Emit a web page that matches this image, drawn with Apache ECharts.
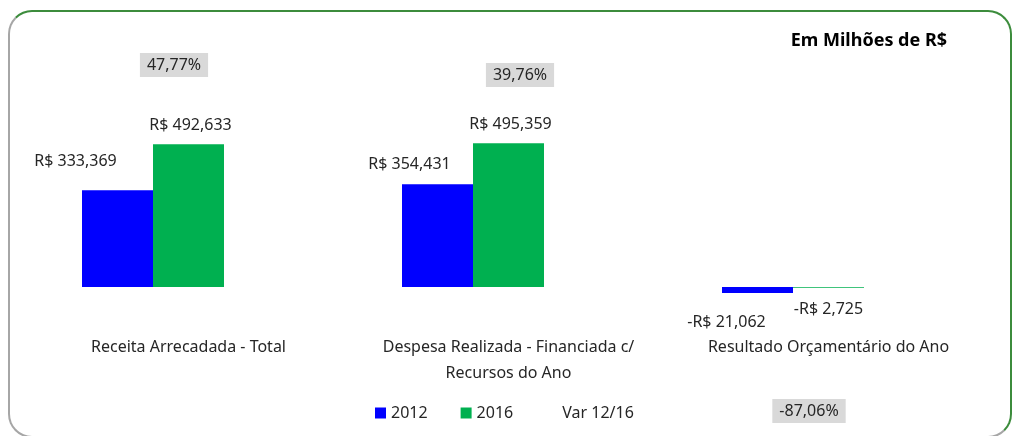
<!DOCTYPE html>
<html>
<head>
<meta charset="utf-8">
<script src="https://cdn.jsdelivr.net/npm/echarts@6/dist/echarts.min.js"></script>
<style>
    html, body { margin: 0; padding: 0; background: #fff; }
    #wrap { position: relative; width: 1013px; height: 436px; overflow: hidden; }
    #frame {
        position: absolute; left: 8px; top: 10px; width: 1004px; height: 428px;
        border: 2px solid #a6a6a6; border-top-color: #3c8c3c; border-right-color: #3c8c3c;
        border-radius: 24px; box-sizing: border-box;
    }
    #c1 { position: absolute; left: 0; top: 0; width: 1013px; height: 436px; }
</style>
</head>
<body>
<div id="wrap">
    <div id="frame"></div>
    <div id="c1"></div>
</div>
<script>
    // dados (em milhões de R$)
    var categorias = ['Receita Arrecadada - Total', 'Despesa Realizada - Financiada c/\nRecursos do Ano', 'Resultado Orçamentário do Ano'];
    var valores2012 = [333.369, 354.431, -21.062];
    var valores2016 = [492.633, 495.359, -2.725];
    var variacao = ['47,77%', '39,76%', '-87,06%'];

    // deslocamento dos rotulos (ajuste manual como no excel)
    var offs2012 = [[-42, -14], [-28, -5], [-31, 14]];
    var offs2016 = [[2, -4], [2, -4], [0, 7]];
    var posVar = [[-50, -222], [-24, -212], [-55, 124]];

    var fonte = 'Noto Sans';
    var corTexto = '#262626';

    function fmt(v) {
        var s = Math.abs(v).toFixed(3).replace('.', ',');
        return (v < 0 ? '-R$ ' : 'R$ ') + s;
    }

    function itens(vals, offs) {
        var out = [];
        for (var i = 0; i < vals.length; i++) {
            out.push({
                value: vals[i],
                label: {position: vals[i] < 0 ? 'bottom' : 'top', offset: offs[i]}
            });
        }
        return out;
    }

    var itensVar = [];
    for (var i = 0; i < variacao.length; i++) {
        itensVar.push({value: 0, label: {position: posVar[i]}});
    }

    var Chart_c1 = echarts.init(document.getElementById('c1'));
    var option = {
        animation: false,
        textStyle: {fontFamily: fonte, color: corTexto},
        title: {
            text: 'Em Milhões de R$',
            right: 61,
            top: 27,
            textStyle: {fontFamily: fonte, fontSize: 18, fontWeight: 'bold', color: '#000'}
        },
        legend: {
            left: 370,
            top: 400,
            itemWidth: 11,
            itemHeight: 11,
            itemGap: 33,
            icon: 'rect',
            textStyle: {fontFamily: fonte, fontSize: 16, color: corTexto},
            data: ['2012', '2016', 'Var 12/16']
        },
        grid: {left: 28.5, width: 960, top: 142, height: 174},
        xAxis: {
            type: 'category',
            data: categorias,
            axisLine: {show: false},
            axisTick: {show: false},
            axisLabel: {
                margin: 18,
                interval: 0,
                fontFamily: fonte,
                fontSize: 16,
                lineHeight: 26,
                color: corTexto
            }
        },
        yAxis: {
            type: 'value',
            min: -100,
            max: 500,
            show: false,
            splitLine: {show: false}
        },
        series: [
            {
                name: '2012',
                type: 'bar',
                barWidth: 71,
                barGap: '0%',
                itemStyle: {color: '#0000ff'},
                label: {
                    show: true, distance: 5, fontFamily: fonte, fontSize: 16, lineHeight: 20, color: corTexto,
                    formatter: function (p) { return fmt(p.value); }
                },
                data: itens(valores2012, offs2012)
            },
            {
                name: '2016',
                type: 'bar',
                barWidth: 71,
                barGap: '0%',
                itemStyle: {color: '#00b050'},
                label: {
                    show: true, distance: 5, fontFamily: fonte, fontSize: 16, lineHeight: 20, color: corTexto,
                    formatter: function (p) { return fmt(p.value); }
                },
                data: itens(valores2016, offs2016)
            },
            {
                name: 'Var 12/16',
                type: 'bar',
                barWidth: 71,
                barGap: '0%',
                itemStyle: {color: 'rgba(0,0,0,0)'},
                label: {
                    show: true,
                    align: 'center',
                    verticalAlign: 'middle',
                    fontFamily: fonte,
                    fontSize: 16,
                    color: corTexto,
                    backgroundColor: '#d9d9d9',
                    padding: [5, 7, 3, 7],
                    formatter: function (p) { return variacao[p.dataIndex]; }
                },
                data: itensVar
            }
        ]
    };
    Chart_c1.setOption(option);
</script>
</body>
</html>
